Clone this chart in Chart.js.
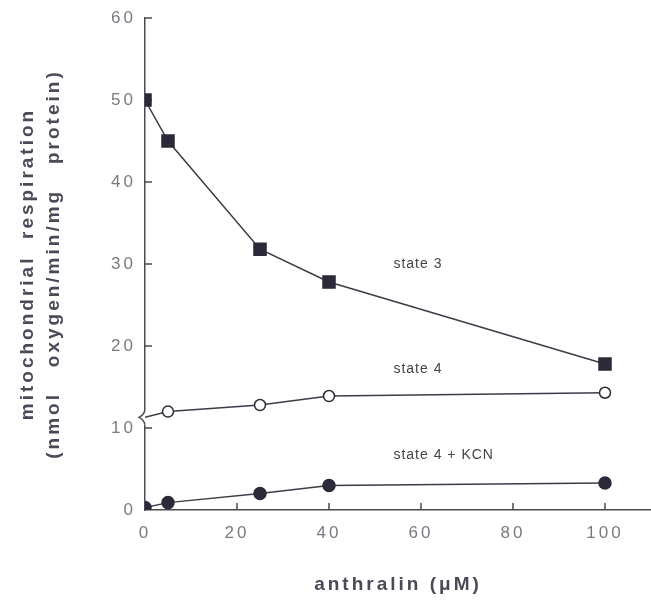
<!DOCTYPE html>
<html>
<head>
<meta charset="utf-8">
<title>Anthralin and mitochondrial respiration</title>
<script src="https://cdn.jsdelivr.net/npm/chart.js@4.4.1/dist/chart.umd.min.js"></script>
<style>
    html, body { margin: 0; padding: 0; background: #fff; overflow: hidden; }
    canvas { display: block; }
</style>
</head>
<body>
<canvas id="resp-chart" width="651" height="600"></canvas>
<script>
    "use strict";

    // anthralin concentration (uM)
    var conc = [0, 5, 25, 40, 100];
    // respiration (nmol oxygen/min/mg protein)
    var state3 = [50, 45, 31.8, 27.8, 17.8];
    var state4 = [11.3, 12, 12.8, 13.9, 14.3];
    var state4KCN = [0.3, 0.9, 2.0, 3.0, 3.3];

    var xTicks = [0, 20, 40, 60, 80, 100];
    var yTicks = [0, 10, 20, 30, 40, 50, 60];

    var seriesNames = ["state 3", "state 4", "state 4 + KCN"];
    // where the series names sit, in data units
    var nameAt = [[54, 30], [54, 17.2], [54, 6.7]];

    var FONT = "'Liberation Sans', Arial, sans-serif";
    var INK = "#3c3c48";
    var AXIS = "#4a4a52";

    function toXY(ys) {
        return conc.map(function (x, i) { return {x: x, y: ys[i]}; });
    }

    // Inward ticks, axis break, spaced lettering, series names
    var paperLook = {
        id: "paperLook",
        beforeDraw: function (chart) {
            chart.ctx.letterSpacing = "3px";
        },
        beforeDatasetsDraw: function (chart) {
            var ctx = chart.ctx, sx = chart.scales.x, sy = chart.scales.y, a = chart.chartArea;
            ctx.save();
            ctx.strokeStyle = AXIS;
            ctx.lineWidth = 1.5;
            ctx.beginPath();
            xTicks.forEach(function (v) {
                if (v === 0) return;
                var px = sx.getPixelForValue(v);
                ctx.moveTo(px, a.bottom);
                ctx.lineTo(px, a.bottom - 7);
            });
            yTicks.forEach(function (v) {
                if (v === 0) return;
                var py = sy.getPixelForValue(v);
                ctx.moveTo(a.left, py);
                ctx.lineTo(a.left + 7, py);
            });
            ctx.stroke();

            // axis break near 11
            var b1 = sy.getPixelForValue(12.2), b2 = sy.getPixelForValue(10.4);
            ctx.fillStyle = "#fff";
            ctx.fillRect(a.left - 2, b1, 4, b2 - b1);
            ctx.beginPath();
            ctx.moveTo(a.left, b1);
            ctx.quadraticCurveTo(a.left - 1, b1 + 5, a.left - 6, (b1 + b2) / 2);
            ctx.quadraticCurveTo(a.left - 1, b2 - 5, a.left, b2);
            ctx.stroke();
            ctx.restore();
        },
        afterDraw: function (chart) {
            var ctx = chart.ctx, sx = chart.scales.x, sy = chart.scales.y;
            ctx.save();
            ctx.letterSpacing = "1px";
            ctx.font = "14px " + FONT;
            ctx.fillStyle = "#444";
            ctx.textBaseline = "middle";
            seriesNames.forEach(function (name, i) {
                ctx.fillText(name, sx.getPixelForValue(nameAt[i][0]), sy.getPixelForValue(nameAt[i][1]));
            });
            ctx.restore();
            ctx.letterSpacing = "0px";
        }
    };

    var ctx1 = document.getElementById("resp-chart").getContext("2d");
    var myChart1 = new Chart(ctx1, {
        type: "line",
        data: {
            datasets: [{
                    label: seriesNames[0],
                    data: toXY(state3),
                    borderColor: INK,
                    borderWidth: 1.5,
                    pointStyle: "rect",
                    pointRadius: 8.5,
                    pointBackgroundColor: "#2a2a38",
                    pointBorderColor: "#2a2a38",
                    clip: 0
                },
                {
                    label: seriesNames[1],
                    data: toXY(state4),
                    borderColor: INK,
                    borderWidth: 1.5,
                    pointStyle: "circle",
                    pointRadius: [0, 5.5, 5.5, 5.5, 5.5],
                    pointBorderWidth: 1.5,
                    pointBackgroundColor: "#fff",
                    pointBorderColor: "#2a2a38",
                    clip: 0
                },
                {
                    label: seriesNames[2],
                    data: toXY(state4KCN),
                    borderColor: INK,
                    borderWidth: 1.5,
                    pointStyle: "circle",
                    pointRadius: 6,
                    pointBackgroundColor: "#2a2a38",
                    pointBorderColor: "#2a2a38",
                    clip: 0
                }
            ]
        },
        options: {
            responsive: false,
            animation: false,
            layout: {autoPadding: false, padding: {top: 18, left: 0, right: 0, bottom: 0}},
            plugins: {legend: {display: false}, tooltip: {enabled: false}},
            scales: {
                x: {
                    type: "linear",
                    min: 0,
                    max: 110,
                    afterBuildTicks: function (s) { s.ticks = xTicks.map(function (v) { return {value: v}; }); },
                    afterFit: function (s) {
                        s.height = 90;
                        s.paddingLeft = 0;
                        s.paddingRight = 0;
                    },
                    grid: {display: false, drawTicks: false},
                    border: {display: true, color: AXIS, width: 1.5},
                    ticks: {color: "#7a7a82", padding: 13, maxRotation: 0, font: {family: FONT, size: 17}},
                    title: {
                        display: true,
                        text: "anthralin (\u03bcM)",
                        color: "#4a4a58",
                        padding: {top: 0, bottom: 4},
                        font: {family: FONT, size: 19, weight: "bold"}
                    }
                },
                y: {
                    min: 0,
                    max: 60,
                    afterBuildTicks: function (s) { s.ticks = yTicks.map(function (v) { return {value: v}; }); },
                    afterFit: function (s) {
                        s.width = 145;
                        s.paddingTop = 0;
                        s.paddingBottom = 0;
                    },
                    grid: {display: false, drawTicks: false},
                    border: {display: true, color: AXIS, width: 1.5},
                    ticks: {color: "#7a7a82", padding: 9, font: {family: FONT, size: 17}},
                    title: {
                        display: true,
                        text: ["mitochondrial  respiration", "(nmol   oxygen/min/mg   protein)"],
                        color: "#4a4a58",
                        padding: {top: 14, bottom: 0},
                        font: {family: FONT, size: 19, weight: "bold", lineHeight: 1.4}
                    }
                }
            }
        },
        plugins: [paperLook]
    });
</script>
</body>
</html>
